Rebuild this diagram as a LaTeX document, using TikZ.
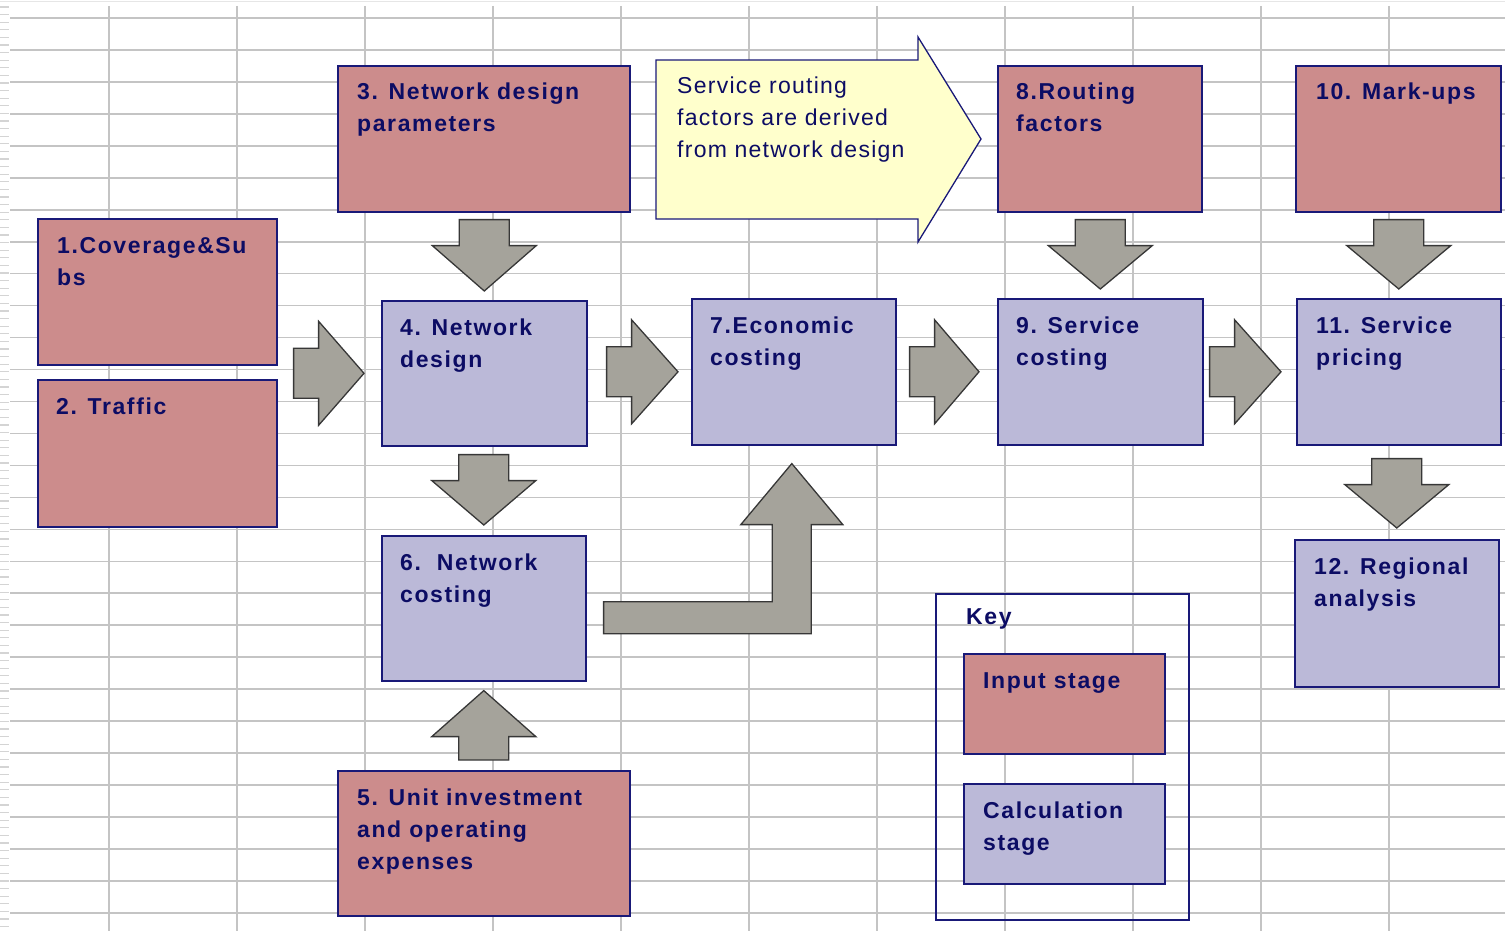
\documentclass[tikz,border=0pt]{standalone}
\usepackage{fontspec}
\setmainfont{Liberation Sans}
\newfontfamily\boxfont[LetterSpace=7]{Liberation Sans}
\newfontfamily\callfont[LetterSpace=5.5]{Liberation Sans}
\usetikzlibrary{calc}
\definecolor{gridc}{RGB}{196,196,196}
\definecolor{hatchc}{RGB}{212,212,212}
\definecolor{topc}{RGB}{230,230,230}
\definecolor{inputc}{RGB}{204,140,140}
\definecolor{calcc}{RGB}{187,185,216}
\definecolor{edgec}{RGB}{25,25,120}
\definecolor{txtc}{RGB}{12,12,100}
\definecolor{callc}{RGB}{255,255,204}
\definecolor{blkc}{RGB}{165,163,155}
\definecolor{blkedge}{RGB}{55,55,55}
\tikzset{
 gridline/.style={draw=gridc, line width=1.6pt},
 hatchline/.style={draw=hatchc, line width=1.2pt},
 stagebox/.style={draw=edgec, line width=1.6pt, anchor=north west, inner sep=0pt},
 inbox/.style={stagebox, fill=inputc},
 calcbox/.style={stagebox, fill=calcc},
 keybox/.style={stagebox, fill=none},
 lbl/.style={anchor=base west, inner sep=0pt, text=txtc, font=\boxfont\bfseries\fontsize{23}{32}\selectfont},
 calllbl/.style={anchor=base west, inner sep=0pt, text=txtc, font=\callfont\fontsize{23}{32}\selectfont},
 callout/.style={draw=edgec, fill=callc, line width=1.3pt, line join=miter},
 blk/.style={fill=blkc, draw=blkedge, line width=1.3pt, line join=miter},
}
\newcommand\blkdown[4]{%
 \draw[blk] let \p1=(#1.south), \p2=(#2.north) in
 (\x2-25pt,\y1-#3pt) -- (\x2+25pt,\y1-#3pt) -- (\x2+25pt,\y1-#3pt-26pt) -- (\x2+52pt,\y1-#3pt-26pt)
 -- (\x2,\y2+#4pt) -- (\x2-52pt,\y1-#3pt-26pt) -- (\x2-25pt,\y1-#3pt-26pt) -- cycle;}
\newcommand\blkright[4]{%
 \draw[blk] let \p1=(#1.east), \p2=(#2.west) in
 (\x1+#3pt,\y2+25pt) -- (\x1+#3pt+25pt,\y2+25pt) -- (\x1+#3pt+25pt,\y2+52pt) -- (\x2-#4pt,\y2)
 -- (\x1+#3pt+25pt,\y2-52pt) -- (\x1+#3pt+25pt,\y2-25pt) -- (\x1+#3pt,\y2-25pt) -- cycle;}
\newcommand\blkup[4]{%
 \draw[blk] let \p1=(#1.north), \p2=(#2.south) in
 (\x1-25pt,\y1+#3pt) -- (\x1+25pt,\y1+#3pt) -- (\x1+25pt,\y2-#4pt-46pt) -- (\x1+52pt,\y2-#4pt-46pt)
 -- (\x1,\y2-#4pt) -- (\x1-52pt,\y2-#4pt-46pt) -- (\x1-25pt,\y2-#4pt-46pt) -- cycle;}
\begin{document}
\begin{tikzpicture}[x=1pt,y=-1pt]
\useasboundingbox (0,0) rectangle (1505,931);
% spreadsheet grid
\draw[draw=topc, line width=1.2pt] (0,1.5) -- (1505,1.5);
\foreach \i in {0,...,10} \draw[gridline] ({109+128*\i},6) -- ({109+128*\i},931);
\foreach \j in {0,...,28} \draw[gridline] (10,{18+31.96*\j}) -- (1505,{18+31.96*\j});
\foreach \j in {0,...,121} \draw[hatchline] (0,{7+7.6*\j}) -- (9,{7+7.6*\j});
% stage boxes
\node[inbox, minimum width=239pt, minimum height=146pt] (b1) at (37,218) {};
\node[inbox, minimum width=239pt, minimum height=147pt] (b2) at (37,379) {};
\node[inbox, minimum width=292pt, minimum height=146pt] (b3) at (337,65) {};
\node[calcbox, minimum width=205pt, minimum height=145pt] (b4) at (381,300) {};
\node[inbox, minimum width=292pt, minimum height=145pt] (b5) at (337,770) {};
\node[calcbox, minimum width=204pt, minimum height=145pt] (b6) at (381,535) {};
\node[calcbox, minimum width=204pt, minimum height=146pt] (b7) at (691,298) {};
\node[inbox, minimum width=204pt, minimum height=146pt] (b8) at (997,65) {};
\node[calcbox, minimum width=205pt, minimum height=146pt] (b9) at (997,298) {};
\node[inbox, minimum width=205pt, minimum height=146pt] (b10) at (1295,65) {};
\node[calcbox, minimum width=204pt, minimum height=146pt] (b11) at (1296,298) {};
\node[calcbox, minimum width=204pt, minimum height=147pt] (b12) at (1294,539) {};
% key
\node[keybox, minimum width=253pt, minimum height=326pt] (key) at (935,593) {};
\node[inbox, minimum width=201pt, minimum height=100pt] (kin) at (963,653) {};
\node[calcbox, minimum width=201pt, minimum height=100pt] (kcalc) at (963,783) {};
% callout
\draw[callout] (656,60) -- (918,60) -- (918,37) -- (981,139) -- (918,242) -- (918,219) -- (656,219) -- cycle;
\node[calllbl] (callt) at (677,94) {\vtop{\baselineskip=32pt\hbox{Service routing}\hbox{factors are derived}\hbox{from network design}}};
% block arrows
\blkright{b2}{b4}{16}{17}
\blkright{b4}{b7}{19}{13}
\blkright{b7}{b9}{13}{18}
\blkright{b9}{b11}{6}{15}
\blkdown{b3}{b4}{7}{9}
\blkdown{b4}{b6}{8}{10}
\blkdown{b8}{b9}{7}{9}
\blkdown{b10}{b11}{7}{9}
\blkdown{b11}{b12}{13}{11}
\blkup{b5}{b6}{10}{9}
\draw[blk] let \p1=(b6.east), \p2=(b7.south) in
 (\x1+17pt,\y1+6.5pt) -- (\x2-21.5pt,\y1+6.5pt) -- (\x2-21.5pt,\y2-79pt) -- (\x2-53pt,\y2-79pt)
 -- (\x2-2pt,\y2-18pt) -- (\x2+49pt,\y2-79pt) -- (\x2+17.5pt,\y2-79pt) -- (\x2+17.5pt,\y1-25.5pt)
 -- (\x1+17pt,\y1-25.5pt) -- cycle;
% labels
\node[lbl] (t1) at ($(b1.north west)+(20,35)$) {\vtop{\baselineskip=32pt\hbox{1.Coverage\&Su}\hbox{bs}}};
\node[lbl] (t2) at ($(b2.north west)+(19,35)$) {2. Traffic};
\node[lbl] (t3) at ($(b3.north west)+(20,35)$) {\vtop{\baselineskip=32pt\hbox{3. Network design}\hbox{parameters}}};
\node[lbl] (t4) at ($(b4.north west)+(19,35)$) {\vtop{\baselineskip=32pt\hbox{4. Network}\hbox{design}}};
\node[lbl] (t5) at ($(b5.north west)+(20,35)$) {\vtop{\baselineskip=32pt\hbox{5. Unit investment}\hbox{and operating}\hbox{expenses}}};
\node[lbl] (t6) at ($(b6.north west)+(19,35)$) {\vtop{\baselineskip=32pt\hbox{6.\ \ Network}\hbox{costing}}};
\node[lbl] (t7) at ($(b7.north west)+(19,35)$) {\vtop{\baselineskip=32pt\hbox{7.Economic}\hbox{costing}}};
\node[lbl] (t8) at ($(b8.north west)+(19,35)$) {\vtop{\baselineskip=32pt\hbox{8.Routing}\hbox{factors}}};
\node[lbl] (t9) at ($(b9.north west)+(19,35)$) {\vtop{\baselineskip=32pt\hbox{9. Service}\hbox{costing}}};
\node[lbl] (t10) at ($(b10.north west)+(21,35)$) {10. Mark-ups};
\node[lbl] (t11) at ($(b11.north west)+(20,35)$) {\vtop{\baselineskip=32pt\hbox{11. Service}\hbox{pricing}}};
\node[lbl] (t12) at ($(b12.north west)+(20,35)$) {\vtop{\baselineskip=32pt\hbox{12. Regional}\hbox{analysis}}};
\node[lbl] (tkey) at ($(key.north west)+(31,31)$) {Key};
\node[lbl] (tkin) at ($(kin.north west)+(20,35)$) {Input stage};
\node[lbl] (tkcalc) at ($(kcalc.north west)+(20,35)$) {\vtop{\baselineskip=32pt\hbox{Calculation}\hbox{stage}}};
\end{tikzpicture}
\end{document}
